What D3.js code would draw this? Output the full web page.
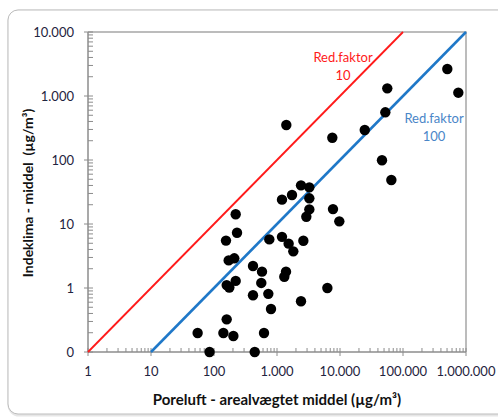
<!DOCTYPE html>
<html>
<head>
<meta charset="utf-8">
<script src="https://cdn.jsdelivr.net/npm/d3@7"></script>
<style>
  body { margin: 0; background: #fff; }
  svg { display: block; font-family: Lato, "Open Sans", sans-serif; }
</style>
</head>
<body>
<div id="chart"></div>
<script>
// poreluft (x) vs indeklima (y), µg/m3
var poreluft = [505000, 755000, 56300, 52400, 24700, 7550, 1405, 46400, 65300, 2405,
                3260, 1730, 1200, 3260, 3260, 7740, 2920, 9750, 221, 232,
                155, 755, 1200, 1530, 1815, 2620, 171, 210, 416, 578,
                1390, 1306, 221, 159, 175, 563, 6300, 416, 728, 803,
                2405, 159, 55, 141, 203, 622, 85, 443];
var indeklima = [2640, 1127, 1318, 556, 294, 223, 352, 99, 48.7, 40.2,
                 37.4, 28.4, 24, 25.2, 16.9, 17.1, 13, 11, 14.2, 7.3,
                 5.5, 5.75, 6.3, 4.93, 3.74, 5.48, 2.7, 2.91, 2.21, 1.8,
                 1.8, 1.5, 1.29, 1.11, 1.02, 1.2, 1.0, 0.77, 0.81, 0.47,
                 0.62, 0.324, 0.198, 0.198, 0.178, 0.198, 0.1, 0.1];
var xTicks = [1, 10, 100, 1000, 10000, 100000, 1000000];
var yTicks = [0.1, 1, 10, 100, 1000, 10000];
var faktorer = [10, 100];
var faktorFarver = ["#ff1a1a", "#1f78c8"];

var width = 498, height = 417;
var margin = { left: 88, right: 32, top: 32, bottom: 65 };

var locale = d3.formatLocale({ decimal: ",", thousands: ".", grouping: [3], currency: ["", ""] });
var fmt = locale.format(",.0f");

var svg = d3.select("#chart").append("svg")
    .attr("width", width)
    .attr("height", height);

// outer frame
svg.append("rect")
    .attr("x", 9).attr("y", 11)
    .attr("width", 520).attr("height", 404)
    .attr("rx", 10)
    .attr("fill", "none")
    .attr("stroke", "#e6e6e6")
    .attr("stroke-width", 3);
svg.append("rect")
    .attr("x", 8).attr("y", 10)
    .attr("width", 520).attr("height", 404)
    .attr("rx", 10)
    .attr("fill", "#fff")
    .attr("stroke", "#bdbdbd")
    .attr("stroke-width", 1);

var x = d3.scaleLog().domain([1, 1000000]).range([margin.left, width - margin.right]);
var y = d3.scaleLog().domain([0.1, 10000]).range([height - margin.bottom, margin.top]);

var g = svg.append("g");

// plot box top/right
g.append("path")
    .attr("d", "M" + x(1) + "," + y(10000) + "H" + x(1000000) + "V" + y(0.1))
    .attr("fill", "none")
    .attr("stroke", "#a6a6a6")
    .attr("stroke-width", 1.5);

// x axis
var xAxis = g.append("g")
    .attr("transform", "translate(0," + y(0.1) + ")");
xAxis.append("line")
    .attr("x1", x(1)).attr("x2", x(1000000))
    .attr("stroke", "#8c8c8c").attr("stroke-width", 1.5);
var xMinor = x.ticks().filter(function(d) { return xTicks.indexOf(d) < 0; });
xAxis.selectAll(".minor").data(xMinor).enter().append("line")
    .attr("x1", function(d) { return x(d); }).attr("x2", function(d) { return x(d); })
    .attr("y1", 0).attr("y2", -4)
    .attr("stroke", "#8c8c8c");
xAxis.selectAll(".major").data(xTicks).enter().append("line")
    .attr("x1", function(d) { return x(d); }).attr("x2", function(d) { return x(d); })
    .attr("y1", 4).attr("y2", -4)
    .attr("stroke", "#8c8c8c");
xAxis.selectAll("text").data(xTicks).enter().append("text")
    .attr("x", function(d) { return x(d); })
    .attr("y", 24)
    .attr("text-anchor", "middle")
    .attr("font-size", 13)
    .attr("fill", "#1f2440")
    .text(fmt);

// y axis
var yAxis = g.append("g")
    .attr("transform", "translate(" + x(1) + ",0)");
yAxis.append("line")
    .attr("y1", y(0.1)).attr("y2", y(10000))
    .attr("stroke", "#8c8c8c").attr("stroke-width", 1.5);
var yMinor = y.ticks().filter(function(d) { return yTicks.indexOf(d) < 0; });
yAxis.selectAll(".minor").data(yMinor).enter().append("line")
    .attr("y1", function(d) { return y(d); }).attr("y2", function(d) { return y(d); })
    .attr("x1", 0).attr("x2", 5)
    .attr("stroke", "#8c8c8c");
yAxis.selectAll(".major").data(yTicks).enter().append("line")
    .attr("y1", function(d) { return y(d); }).attr("y2", function(d) { return y(d); })
    .attr("x1", -4).attr("x2", 5)
    .attr("stroke", "#8c8c8c");
yAxis.selectAll("text").data(yTicks).enter().append("text")
    .attr("x", -14)
    .attr("y", function(d) { return y(d); })
    .attr("dy", "0.35em")
    .attr("text-anchor", "end")
    .attr("font-size", 13)
    .attr("fill", "#1f2440")
    .text(fmt);

// reduction factor lines
faktorer.forEach(function(f, i) {
    var x0 = 0.1 * f, x1 = 10000 * f;
    g.append("line")
        .attr("x1", x(x0)).attr("y1", y(0.1))
        .attr("x2", x(x1)).attr("y2", y(10000))
        .attr("stroke", faktorFarver[i])
        .attr("stroke-width", i == 0 ? 1.8 : 2.5);
});

// labels for lines
var lab = [
    { t: "Red.faktor", f: "10", cx: 343, cy: 62, c: faktorFarver[0] },
    { t: "Red.faktor", f: "100", cx: 434, cy: 123, c: "#4a86c8" }
];
lab.forEach(function(l) {
    g.append("text").attr("x", l.cx).attr("y", l.cy)
        .attr("text-anchor", "middle").attr("font-size", 13)
        .attr("fill", l.c).text(l.t);
    g.append("text").attr("x", l.cx).attr("y", l.cy + 18)
        .attr("text-anchor", "middle").attr("font-size", 13)
        .attr("fill", l.c).text(l.f);
});

// points
g.selectAll("circle")
    .data(poreluft)
    .enter().append("circle")
    .attr("cx", function(d) { return x(d); })
    .attr("cy", function(d, i) { return y(indeklima[i]); })
    .attr("r", 5.2)
    .attr("fill", "#000");

// axis titles
svg.append("text")
    .attr("x", 277).attr("y", 405)
    .attr("text-anchor", "middle")
    .attr("font-size", 15)
    .attr("font-weight", "bold")
    .attr("fill", "#111")
    .text("Poreluft - arealvægtet middel (µg/m³)");
svg.append("text")
    .attr("transform", "translate(33,193) rotate(-90)")
    .attr("text-anchor", "middle")
    .attr("font-size", 14)
    .attr("font-weight", "bold")
    .attr("fill", "#111")
    .attr("xml:space", "preserve")
    .text("Indeklima - middel  (µg/m³)");
</script>
</body>
</html>
